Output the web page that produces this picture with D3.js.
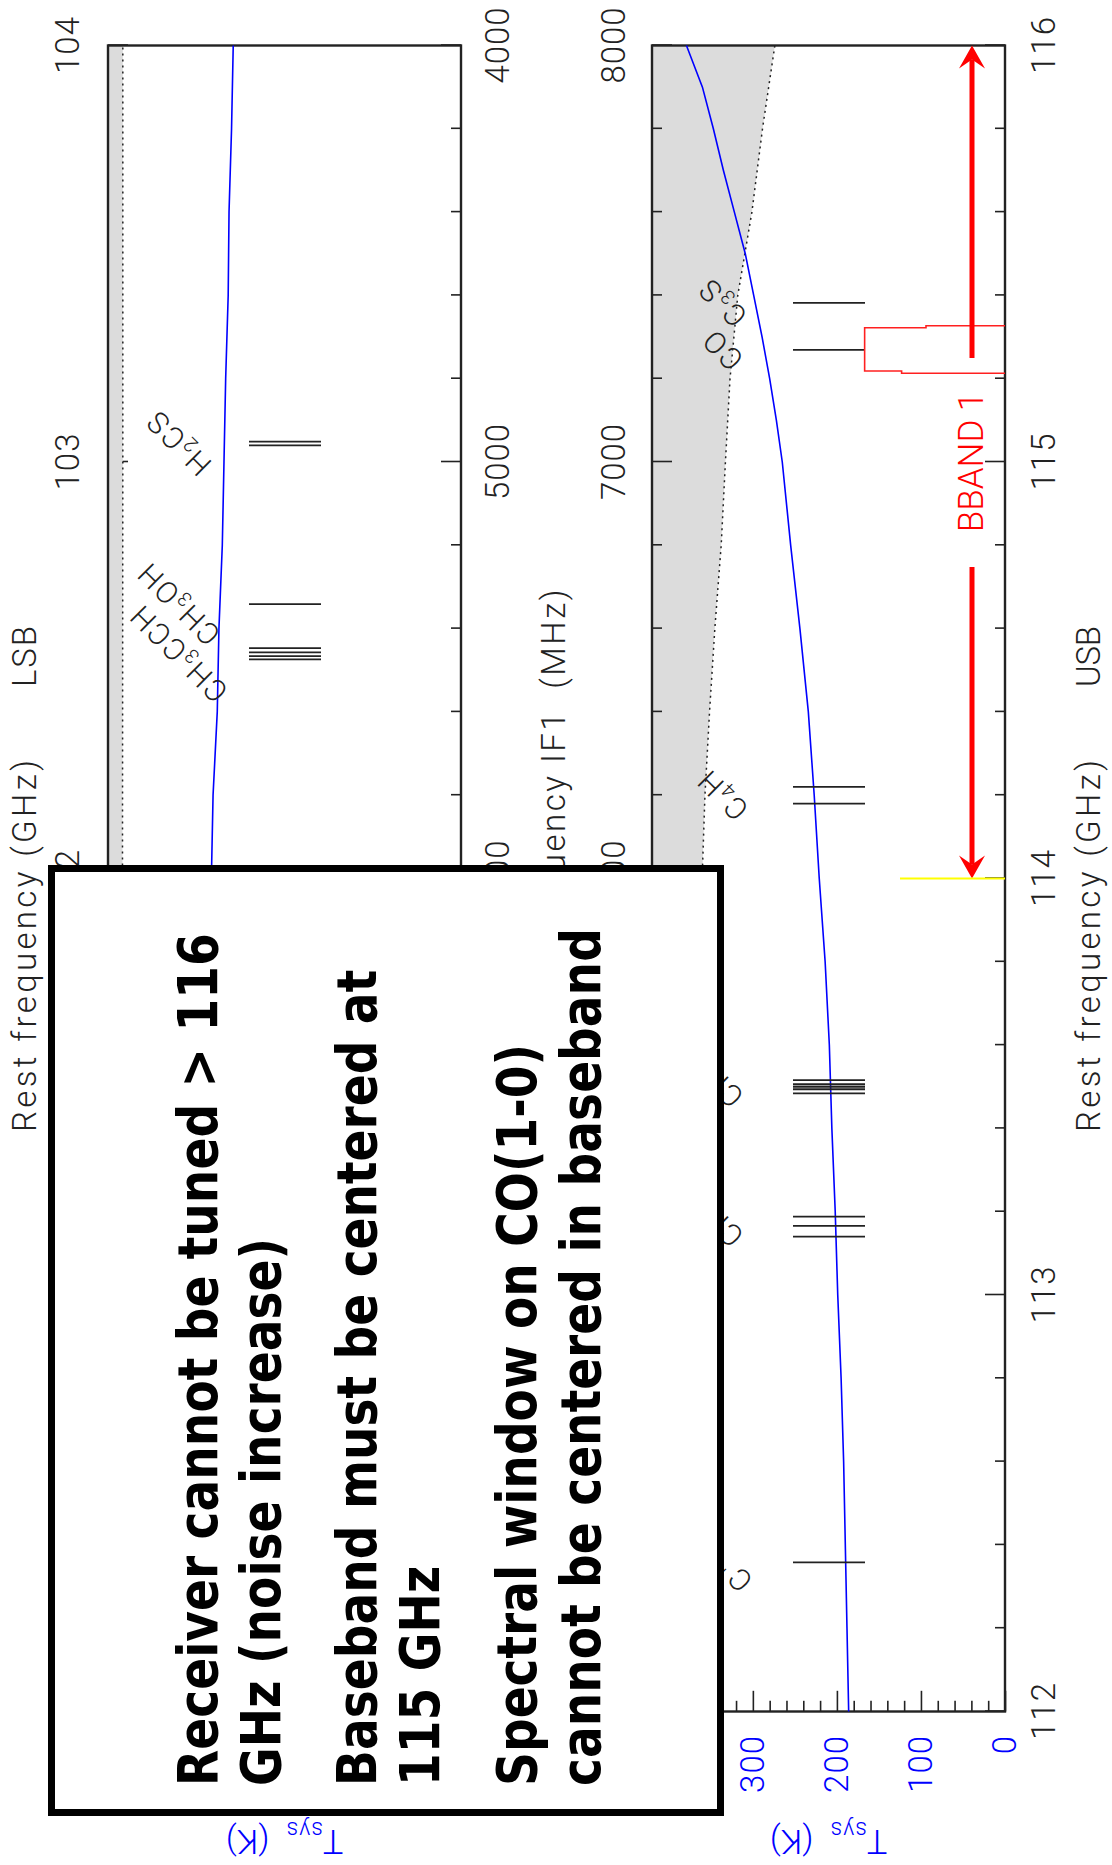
<!DOCTYPE html>
<html>
<head>
<meta charset="utf-8">
<script src="https://cdn.jsdelivr.net/npm/d3@7"></script>
<style>
  html, body { margin: 0; padding: 0; background: #fff; }
  svg { display: block; }
</style>
</head>
<body>
<script>
// ---------- Data ----------
// Lower sideband (LSB) panel: receiver temperature and atmospheric transmission
const lsbTsysFreq = [100.0, 100.5, 101.0, 101.5, 101.8, 102.0, 102.2, 102.4, 102.6, 102.8, 103.0, 103.2, 103.4, 103.6, 103.8, 104.0];
const lsbTsys     = [328, 320, 312, 305, 300, 297, 295, 290, 288, 284, 282, 280, 277, 276, 273, 271];
const lsbAtmFreq  = [100.0, 101.0, 102.0, 103.0, 104.0];
const lsbAtm      = [0.960, 0.960, 0.959, 0.958, 0.958];

// Upper sideband (USB) panel
const usbTsysFreq = [112.0, 112.2, 112.4, 112.6, 112.8, 113.0, 113.2, 113.4, 113.6, 113.8, 114.0, 114.2, 114.4, 114.6, 114.8, 115.0, 115.1, 115.2, 115.3, 115.4, 115.5, 115.6, 115.7, 115.8, 115.9, 116.0];
const usbTsys     = [186, 188, 190, 192, 195, 199, 202, 206, 209, 214, 221, 227, 234, 244, 255, 265, 272, 280, 289, 299, 309, 322, 335, 347, 360, 379];
const usbAtmFreq  = [112.0, 112.5, 113.0, 113.5, 114.0, 114.2, 114.4, 114.6, 114.8, 115.0, 115.2, 115.4, 115.6, 115.8, 116.0];
const usbAtm      = [0.895, 0.890, 0.880, 0.870, 0.858, 0.850, 0.837, 0.822, 0.804, 0.792, 0.779, 0.757, 0.717, 0.687, 0.652];

// Molecular line catalogue (GHz)
const lsbLineFreq  = [103.049, 103.040, 102.659, 102.553, 102.543, 102.534, 102.526];
const lsbLabelName = [["H", "2", "CS"], ["CH", "3", "OH"], ["CH", "3", "CCH"]];
const lsbLabelFreq = [103.045, 102.659, 102.540];

const usbLineFreq  = [115.382, 115.269, 114.220, 114.180, 113.516, 113.506, 113.500, 113.494, 113.484, 113.188, 113.166, 113.140, 112.358];
const usbLabelName = [["C", "3", "S"], ["CO", "", ""], ["C", "4", "H"], ["CN", "", ""], ["CN", "", ""], ["C", "17", "O"]];
const usbLabelFreq = [115.382, 115.269, 114.200, 113.500, 113.165, 112.358];

// Spectral window outline on CO(1-0) and baseband extent
const spwFreq  = [115.3272, 115.3272, 115.3224, 115.3224, 115.2185, 115.2185, 115.2130, 115.2130];
const spwLevel = [0, 94, 94, 167, 167, 123, 123, 0];
const basebandRange = [114, 116];
const basebandLabel = "BBAND 1";
const tuningLimitFreq = 114;

// Axis ticks
const lsbFreqTicks = [100, 101, 102, 103, 104];
const usbFreqTicks = [112, 113, 114, 115, 116];
const ifTicks      = [4000, 5000, 6000, 7000, 8000];
const tsysTicks    = [0, 100, 200, 300, 400];

// Note box
const noteLines = [
  "Receiver cannot be tuned > 116",
  "GHz (noise increase)",
  "Baseband must be centered at",
  "115 GHz",
  "Spectral window on CO(1-0)",
  "cannot be centered in baseband"
];

// ---------- Layout (landscape frame, rotated onto the page) ----------
const W = 1112, H = 1865;
const X0 = 153.5, X1 = 1819.5;
const FONT = "Roboto, 'DejaVu Sans', sans-serif";
const INK = "#222";
const BLUE = "#0000ff";

const svg = d3.select("body").append("svg").attr("width", W).attr("height", H);
const g = svg.append("g").attr("transform", `translate(0,${H}) rotate(-90)`);

const panels = [
  { name: "LSB", top: 108, bottom: 461,
    x: d3.scaleLinear([100, 104], [X0, X1]),
    ifx: d3.scaleLinear([8000, 4000], [X0, X1]),
    freqTicks: lsbFreqTicks, freqOnTop: true,
    tsysF: lsbTsysFreq, tsys: lsbTsys, atmF: lsbAtmFreq, atm: lsbAtm,
    lines: lsbLineFreq, labF: lsbLabelFreq, labN: lsbLabelName, shadeOver: true },
  { name: "USB", top: 652, bottom: 1005,
    x: d3.scaleLinear([112, 116], [X0, X1]),
    ifx: d3.scaleLinear([4000, 8000], [X0, X1]),
    freqTicks: usbFreqTicks, freqOnTop: false,
    tsysF: usbTsysFreq, tsys: usbTsys, atmF: usbAtmFreq, atm: usbAtm,
    lines: usbLineFreq, labF: usbLabelFreq, labN: usbLabelName, shadeOver: false }
];

function styleAxis(sel, color) {
  sel.select(".domain").remove();
  sel.selectAll(".tick line").attr("stroke", INK).attr("stroke-width", 1.6);
  sel.selectAll(".tick text")
    .attr("font-family", FONT).attr("font-weight", 300)
    .attr("font-size", 33).attr("letter-spacing", 1)
    .attr("fill", color || INK);
}
const notInt = (v, step) => Math.abs(v / step - Math.round(v / step)) > 1e-6;

panels.forEach(p => {
  const y = d3.scaleLinear([0, 420], [p.bottom, p.top]);   // Tsys (K)
  const yt = d3.scaleLinear([0, 1], [p.bottom, p.top]);    // transmission
  const pg = g.append("g");

  const fDom = p.x.domain();
  const minorF = d3.range(fDom[0], fDom[1] + 1e-9, 0.2).filter(v => notInt(v, 1));
  const minorIF = d3.range(4000, 8001, 200).filter(v => notInt(v, 1000));
  const minorT = d3.range(0, 421, 20).filter(v => notInt(v, 100));

  const shade = d3.area()
    .x((d, i) => p.x(p.atmF[i])).y0(yt(1)).y1((d, i) => yt(d));
  const dotted = d3.line().x((d, i) => p.x(p.atmF[i])).y(d => yt(d));

  function drawShade() {
    pg.append("path").datum(p.atm).attr("d", shade).attr("fill", "#dcdcdc");
    pg.append("path").datum(p.atm).attr("d", dotted)
      .attr("fill", "none").attr("stroke", INK).attr("stroke-width", 1.5)
      .attr("stroke-dasharray", "2,4");
  }
  if (!p.shadeOver) drawShade();

  // Frequency axis (GHz) and IF axis (MHz)
  const freqAxisTop = p.freqOnTop;
  const edgeF = freqAxisTop ? p.top : p.bottom;
  const edgeI = freqAxisTop ? p.bottom : p.top;
  const mkF = freqAxisTop ? d3.axisTop : d3.axisBottom;
  const mkI = freqAxisTop ? d3.axisBottom : d3.axisTop;
  const sgnF = -1;

  pg.append("g").attr("transform", `translate(0,${edgeF})`)
    .call(mkF(p.x).tickValues(minorF).tickSize(-10).tickFormat(""))
    .call(s => styleAxis(s));
  pg.append("g").attr("transform", `translate(0,${edgeF})`)
    .call(mkF(p.x).tickValues(p.freqTicks).tickSize(-20)
      .tickPadding(freqAxisTop ? 29 : 26.6).tickFormat(d3.format("d")))
    .call(s => styleAxis(s));

  pg.append("g").attr("transform", `translate(0,${edgeI})`)
    .call(mkI(p.ifx).tickValues(minorIF).tickSize(-10).tickFormat(""))
    .call(s => styleAxis(s));
  pg.append("g").attr("transform", `translate(0,${edgeI})`)
    .call(mkI(p.ifx).tickValues(ifTicks).tickSize(-20)
      .tickPadding(freqAxisTop ? 24.6 : 27).tickFormat(d3.format("d")))
    .call(s => styleAxis(s));

  // Tsys axis
  pg.append("g").attr("transform", `translate(${X0},0)`)
    .call(d3.axisLeft(y).tickValues(minorT).tickSize(-10.7).tickFormat(""))
    .call(s => styleAxis(s));
  pg.append("g").attr("transform", `translate(${X0},0)`)
    .call(d3.axisLeft(y).tickValues(tsysTicks).tickSize(-20.7).tickPadding(23.5).tickFormat(d3.format("d")))
    .call(s => styleAxis(s, BLUE));

  if (p.shadeOver) drawShade();

  // Frame
  pg.append("rect").attr("x", X0).attr("y", p.top)
    .attr("width", X1 - X0).attr("height", p.bottom - p.top)
    .attr("fill", "none").attr("stroke", INK).attr("stroke-width", 2.4);

  // Tsys curve
  pg.append("path").datum(p.tsys)
    .attr("d", d3.line().x((d, i) => p.x(p.tsysF[i])).y(d => y(d)))
    .attr("fill", "none").attr("stroke", BLUE).attr("stroke-width", 1.6);

  // Line markers
  pg.selectAll(null).data(p.lines).join("line")
    .attr("x1", d => p.x(d)).attr("x2", d => p.x(d))
    .attr("y1", p.top + 141).attr("y2", p.top + 213)
    .attr("stroke", INK).attr("stroke-width", 1.8);

  // Line labels, slanted at 45 degrees
  p.labN.forEach((parts, i) => {
    const cx = p.x(p.labF[i]), cy = p.top + 70;
    const t = pg.append("text")
      .attr("transform", `translate(${cx},${cy}) rotate(-45)`)
      .attr("text-anchor", "middle").attr("dominant-baseline", "central")
      .attr("font-family", FONT).attr("font-weight", 300)
      .attr("font-size", 30).attr("letter-spacing", 2).attr("fill", INK);
    t.append("tspan").text(parts[0]);
    if (parts[1]) {
      const up = parts[1] === "17";
      t.append("tspan").attr("font-size", 20).attr("dy", up ? -9 : 8).text(parts[1]);
      t.append("tspan").attr("dy", up ? 9 : -8).text(parts[2]);
    }
  });

  // Axis titles
  const titleY = freqAxisTop ? 36 : 1100;
  pg.append("text").attr("x", 733).attr("y", titleY)
    .attr("font-family", FONT).attr("font-weight", 300).attr("font-size", 33)
    .attr("fill", INK).attr("textLength", 372).attr("lengthAdjust", "spacing")
    .text("Rest frequency (GHz)");
  pg.append("text").attr("x", 1178).attr("y", titleY)
    .attr("font-family", FONT).attr("font-weight", 300).attr("font-size", 33)
    .attr("fill", INK).attr("textLength", 61).attr("lengthAdjust", "spacing")
    .text(p.name);

  const ty = pg.append("text")
    .attr("transform", `translate(35,${(p.top + p.bottom) / 2}) rotate(-90)`)
    .attr("text-anchor", "middle")
    .attr("font-family", FONT).attr("font-weight", 300).attr("font-size", 34)
    .attr("fill", BLUE);
  ty.append("tspan").text("T");
  ty.append("tspan").attr("font-size", 23).attr("dy", 8).attr("letter-spacing", 1).text("sys");
  ty.append("tspan").attr("dy", -8).style("white-space", "pre").text("  (K)");

  p.y = y;
});

// IF axis title between the panels
g.append("text").attr("x", 1278).attr("y", 565).attr("text-anchor", "end")
  .attr("font-family", FONT).attr("font-weight", 300).attr("font-size", 33)
  .attr("letter-spacing", 2.5).attr("fill", INK).style("white-space", "pre")
  .text("Intermediate frequency IF1  (MHz)");

// ---------- USB overlays: spectral window, baseband arrow, tuning limit ----------
const usb = panels[1];
g.append("path").datum(spwLevel)
  .attr("d", d3.line().x((d, i) => usb.x(spwFreq[i])).y(d => usb.y(d)))
  .attr("fill", "none").attr("stroke", "#ff2020").attr("stroke-width", 1.6);

const arrowY = 972;
const bx0 = usb.x(basebandRange[0]), bx1 = usb.x(basebandRange[1]);
const bmid = usb.x((basebandRange[0] + basebandRange[1]) / 2);
const red = "#ff0000";
[[bx0 + 14, bmid - 105], [bmid + 104, bx1 - 14]].forEach(([a, b]) => {
  g.append("line").attr("x1", a).attr("x2", b).attr("y1", arrowY).attr("y2", arrowY)
    .attr("stroke", red).attr("stroke-width", 5);
});
function arrowHead(tip, dir) {
  const L = 23, w = 13, n = 9;
  const pts = [[tip, arrowY], [tip - dir * L, arrowY - w], [tip - dir * (L - n), arrowY],
               [tip - dir * L, arrowY + w]];
  g.append("polygon").attr("points", pts.map(d => d.join(",")).join(" ")).attr("fill", red);
}
arrowHead(bx1, 1);
arrowHead(bx0, -1);
g.append("text").attr("x", bmid).attr("y", arrowY + 11).attr("text-anchor", "middle")
  .attr("font-family", FONT).attr("font-weight", 300).attr("font-size", 35)
  .attr("fill", red).style("white-space", "pre").text(basebandLabel);

g.append("line")
  .attr("x1", usb.x(tuningLimitFreq)).attr("x2", usb.x(tuningLimitFreq))
  .attr("y1", 900).attr("y2", usb.bottom)
  .attr("stroke", "#ffff00").attr("stroke-width", 2);

// ---------- Note box ----------
g.append("rect").attr("x", 52.5).attr("y", 51.5).attr("width", 944).attr("height", 669)
  .attr("fill", "#fff").attr("stroke", "#000").attr("stroke-width", 7);

const noteBase = [217, 280, 376, 439, 536, 600];
const note = g.append("g");
const noteText = note.selectAll(null).data(noteLines).join("text")
  .attr("x", 0).attr("y", (d, i) => noteBase[i])
  .attr("font-family", "'DejaVu Sans', Verdana, sans-serif").attr("font-weight", "bold")
  .attr("font-size", 55).attr("fill", "#000")
  .text(d => d);
const firstLen = noteText.node().getComputedTextLength();
note.attr("transform", `translate(79,0) scale(${853 / firstLen},1)`);
</script>
</body>
</html>
